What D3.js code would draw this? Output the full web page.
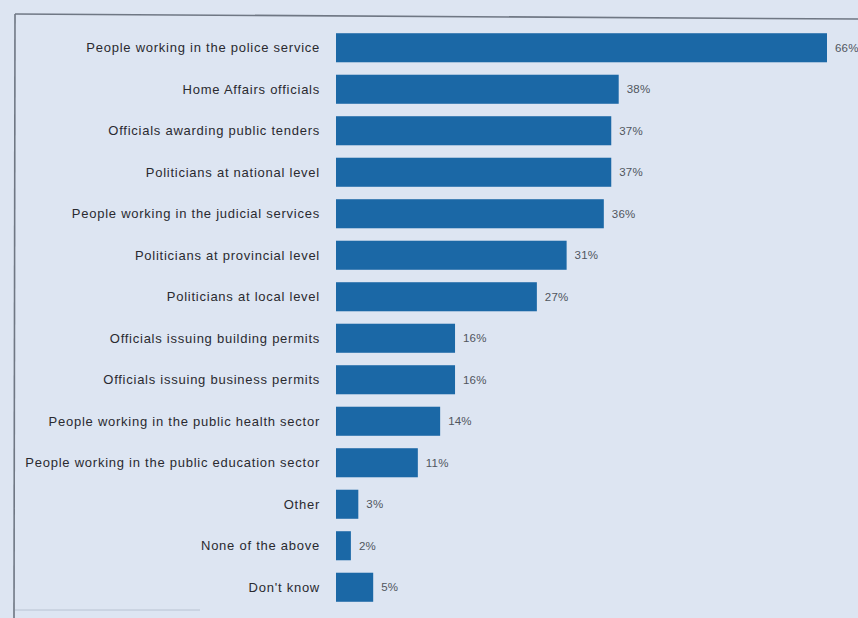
<!DOCTYPE html>
<html>
<head>
<meta charset="utf-8">
<script src="https://cdn.jsdelivr.net/npm/d3@7/dist/d3.min.js"></script>
<style>
  html, body { margin: 0; padding: 0; background: #dde5f2; }
  svg { display: block; }
</style>
</head>
<body>
<svg id="chart" width="858" height="618"></svg>
<script>
const categories = [
  "People working in the police service",
  "Home Affairs officials",
  "Officials awarding public tenders",
  "Politicians at national level",
  "People working in the judicial services",
  "Politicians at provincial level",
  "Politicians at local level",
  "Officials issuing building permits",
  "Officials issuing business permits",
  "People working in the public health sector",
  "People working in the public education sector",
  "Other",
  "None of the above",
  "Don't know"
];
const values = [66, 38, 37, 37, 36, 31, 27, 16, 16, 14, 11, 3, 2, 5];
const valueLabels = values.map(v => v + "%");

const W = 858, H = 618;
const svg = d3.select("#chart");

// background
svg.append("rect").attr("width", W).attr("height", H).attr("fill", "#dde5f2");

// frame
svg.append("line").attr("x1", 15).attr("y1", 14).attr("x2", W).attr("y2", 19)
  .attr("stroke", "#6f7784").attr("stroke-width", 1.6);
svg.append("line").attr("x1", 15).attr("y1", 14).attr("x2", 14).attr("y2", H)
  .attr("stroke", "#6f7784").attr("stroke-width", 1.6);
svg.append("line").attr("x1", 15).attr("y1", 610).attr("x2", 200).attr("y2", 610)
  .attr("stroke", "#b8c2d2").attr("stroke-width", 1);

const x = d3.scaleLinear().domain([0, 66]).range([336, 827]);
const y = d3.scaleBand().domain(categories).range([27, 608]).paddingInner(0.3).paddingOuter(0.15);

const g = svg.append("g");

g.selectAll("rect.bar")
  .data(categories)
  .join("rect")
  .attr("class", "bar")
  .attr("x", x(0))
  .attr("y", d => y(d))
  .attr("width", (d, i) => x(values[i]) - x(0))
  .attr("height", y.bandwidth())
  .attr("fill", "#1b68a6");

g.selectAll("text.cat")
  .data(categories)
  .join("text")
  .attr("class", "cat")
  .attr("x", x(0) - 16)
  .attr("y", d => y(d) + y.bandwidth() / 2)
  .attr("dy", "0.35em")
  .attr("text-anchor", "end")
  .attr("font-family", "Liberation Sans, Arial, sans-serif")
  .attr("font-size", 13)
  .attr("letter-spacing", "0.75px")
  .attr("fill", "#2a2a30")
  .text(d => d);

g.selectAll("text.val")
  .data(categories)
  .join("text")
  .attr("class", "val")
  .attr("x", (d, i) => x(values[i]) + 8)
  .attr("y", d => y(d) + y.bandwidth() / 2)
  .attr("dy", "0.35em")
  .attr("font-family", "Liberation Sans, Arial, sans-serif")
  .attr("font-size", 11.5)
  .attr("letter-spacing", "0.2px")
  .attr("fill", "#50555e")
  .text((d, i) => valueLabels[i]);
</script>
</body>
</html>
